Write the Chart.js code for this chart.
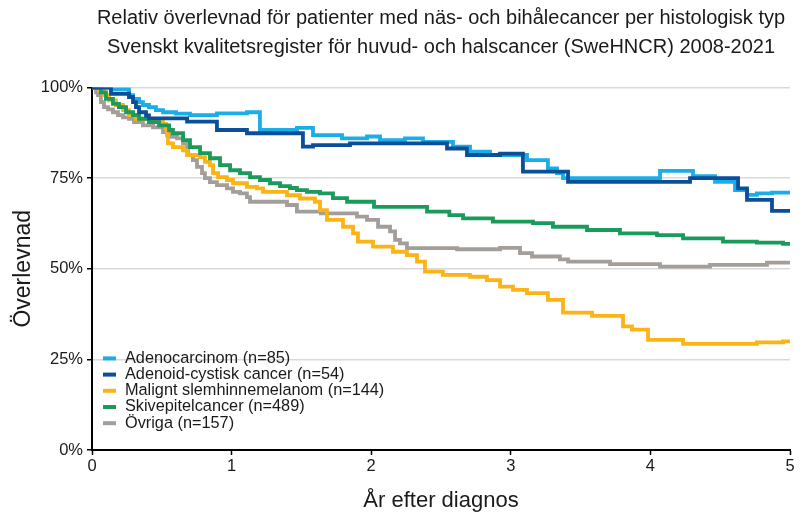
<!DOCTYPE html>
<html lang="sv">
<head>
<meta charset="UTF-8">
<title>Relativ överlevnad per histologisk typ</title>
<script src="https://cdn.jsdelivr.net/npm/chart.js"></script>
<style>
  html, body { margin: 0; padding: 0; background: #fff; }
  #wrap { width: 801px; height: 514px; }
</style>
</head>
<body>
<div id="wrap"><canvas id="chart"></canvas></div>
<script>
// År efter diagnos (t) och relativ överlevnad i procent (s)
var adenoT = [0, 0.136, 0.265, 0.294, 0.337, 0.365, 0.408, 0.458, 0.509, 0.602, 0.702, 0.895, 1.110, 1.203, 1.468, 1.583, 1.791, 1.970, 2.063, 2.242, 2.371, 2.586, 2.708, 2.851, 3.116, 3.266, 3.331, 3.374, 4.069, 4.305, 4.463, 4.606, 4.692, 4.763, 4.871, 5.0];
var adenoS = [100, 99.6, 97.9, 96.9, 96.0, 95.2, 94.6, 93.8, 93.2, 92.8, 92.4, 92.9, 93.2, 88.3, 88.9, 86.9, 86.0, 86.5, 85.5, 86.0, 85.0, 83.7, 82.3, 81.4, 80.0, 77.7, 76.4, 75.0, 77.0, 75.6, 74.0, 71.7, 70.4, 70.8, 71.0, 71.0];

var cystT = [0, 0.136, 0.265, 0.294, 0.315, 0.337, 0.387, 0.408, 0.681, 0.895, 1.110, 1.511, 1.583, 1.848, 2.543, 2.686, 2.923, 3.087, 3.410, 4.284, 4.628, 4.692, 4.871, 5.0];
var cystS = [100, 98.3, 97.4, 96.0, 94.6, 93.2, 92.3, 91.5, 90.6, 88.3, 87.4, 83.7, 84.1, 84.6, 83.2, 81.4, 81.8, 76.8, 74.0, 75.0, 72.2, 69.0, 66.0, 66.0];

var melT = [0, 0.050, 0.086, 0.122, 0.172, 0.222, 0.265, 0.315, 0.437, 0.509, 0.530, 0.537, 0.544, 0.580, 0.652, 0.681, 0.774, 0.809, 0.845, 0.867, 0.903, 0.967, 1.010, 1.110, 1.182, 1.225, 1.397, 1.490, 1.597, 1.633, 1.683, 1.798, 1.870, 1.905, 2.013, 2.156, 2.256, 2.328, 2.385, 2.514, 2.708, 2.829, 2.923, 3.016, 3.116, 3.266, 3.374, 3.582, 3.804, 3.868, 3.983, 4.234, 4.763, 4.950, 5.0];
var melS = [100, 99.3, 97.9, 96.5, 95.2, 93.8, 92.4, 91.4, 90.5, 90.0, 88.6, 86.8, 84.6, 83.6, 82.7, 81.4, 80.8, 79.5, 78.6, 76.4, 75.3, 74.5, 73.6, 72.6, 72.2, 71.2, 70.3, 69.4, 68.5, 66.2, 63.5, 61.6, 59.8, 57.5, 56.1, 54.7, 53.8, 52.0, 49.2, 48.3, 47.8, 46.9, 45.1, 44.2, 43.3, 41.4, 37.9, 37.0, 34.1, 33.2, 30.4, 29.3, 29.7, 30.0, 30.0];

var skivT = [0, 0.064, 0.100, 0.150, 0.193, 0.244, 0.294, 0.337, 0.408, 0.480, 0.552, 0.580, 0.652, 0.702, 0.774, 0.845, 0.917, 0.989, 1.060, 1.132, 1.203, 1.275, 1.347, 1.418, 1.468, 1.540, 1.633, 1.726, 1.827, 2.020, 2.400, 2.560, 2.658, 2.872, 3.159, 3.302, 3.546, 3.782, 4.047, 4.234, 4.520, 4.763, 4.950, 5.0];
var skivS = [100, 98.7, 96.9, 95.5, 94.6, 93.2, 92.4, 91.4, 90.5, 89.6, 88.3, 87.4, 85.5, 83.6, 81.9, 80.5, 78.6, 77.2, 76.4, 75.3, 74.5, 73.6, 72.8, 72.3, 71.7, 71.2, 70.8, 69.5, 68.5, 67.1, 65.8, 64.8, 63.9, 63.0, 62.6, 61.6, 60.7, 59.8, 59.3, 58.4, 57.5, 57.2, 56.9, 56.9];

var ovrT = [0, 0.029, 0.043, 0.064, 0.086, 0.115, 0.150, 0.186, 0.222, 0.265, 0.301, 0.365, 0.437, 0.509, 0.559, 0.609, 0.652, 0.681, 0.688, 0.723, 0.752, 0.788, 0.809, 0.845, 0.895, 0.967, 1.010, 1.060, 1.110, 1.132, 1.397, 1.468, 1.640, 1.898, 1.970, 2.049, 2.135, 2.171, 2.206, 2.256, 2.615, 2.923, 3.066, 3.152, 3.352, 3.410, 3.711, 4.069, 4.427, 4.835, 5.0];
var ovrS = [100, 98.7, 97.9, 96.0, 94.6, 94.0, 93.2, 92.4, 91.8, 91.4, 90.5, 89.6, 89.0, 87.7, 86.4, 86.0, 84.6, 82.7, 81.4, 80.0, 78.1, 76.4, 75.0, 73.9, 73.1, 72.2, 71.2, 70.8, 69.8, 68.5, 67.6, 65.8, 65.3, 64.4, 63.5, 61.6, 60.3, 58.0, 57.0, 55.7, 55.4, 55.8, 54.3, 53.4, 52.6, 52.0, 51.3, 50.6, 51.1, 51.7, 51.7];

var seriesLabels = ['Adenocarcinom (n=85)', 'Adenoid-cystisk cancer (n=54)', 'Malignt slemhinnemelanom (n=144)', 'Skivepitelcancer (n=489)', 'Övriga (n=157)'];
var seriesColors = ['#1aaee8', '#0b4f9a', '#fcb316', '#1a9a5b', '#a39e99'];
var yTicks = [0, 25, 50, 75, 100];

function pts(t, s) {
  return t.map(function(v, i) { return { x: v, y: s[i] }; });
}

var allT = [adenoT, cystT, melT, skivT, ovrT];
var allS = [adenoS, cystS, melS, skivS, ovrS];
var drawOrder = [2, 1, 4, 3, 5]; // mörkblå överst

var datasets = seriesLabels.map(function(lab, i) {
  return {
    label: lab,
    data: pts(allT[i], allS[i]),
    borderColor: seriesColors[i],
    backgroundColor: seriesColors[i],
    borderWidth: 3.8,
    pointRadius: 0,
    stepped: true,
    fill: false,
    order: drawOrder[i]
  };
});

// legend inne i diagrammet, nere till vänster
var innerLegend = {
  id: 'innerLegend',
  afterDraw: function(chart) {
    var ctx = chart.ctx;
    var x0 = chart.chartArea.left + 11;
    var y0 = chart.scales.y.getPixelForValue(25) - 1;
    ctx.save();
    ctx.font = '16.3px "Liberation Sans", Arial, sans-serif';
    ctx.textBaseline = 'middle';
    ctx.textAlign = 'left';
    seriesLabels.forEach(function(lab, i) {
      var y = y0 + i * 16.2;
      ctx.fillStyle = seriesColors[i];
      ctx.fillRect(x0, y - 2, 13, 4);
      ctx.fillStyle = '#1a1a1a';
      ctx.fillText(lab, x0 + 22, y);
    });
    ctx.restore();
  }
};

Chart.defaults.font.family = '"Liberation Sans", Arial, sans-serif';
Chart.defaults.color = '#1a1a1a';

var ctx = document.getElementById('chart').getContext('2d');
var chart = new Chart(ctx, {
  type: 'line',
  data: { datasets: datasets },
  options: {
    responsive: true,
    maintainAspectRatio: false,
    animation: false,
    layout: { padding: { left: 0, right: 11, top: 0, bottom: 0 } },
    plugins: {
      legend: { display: false },
      tooltip: { enabled: false },
      title: {
        display: true,
        fullSize: false,
        text: ['Relativ överlevnad för patienter med näs- och bihålecancer per histologisk typ',
               'Svenskt kvalitetsregister för huvud- och halscancer (SweHNCR) 2008-2021'],
        font: { size: 20, weight: 'normal', lineHeight: 1.45 },
        color: '#1a1a1a',
        padding: { top: 3.5, bottom: 26.1 }
      }
    },
    scales: {
      x: {
        type: 'linear',
        min: 0,
        max: 5,
        afterFit: function(scale) { scale.height = 64; },
        ticks: { stepSize: 1, color: '#1a1a1a', font: { size: 16.5 }, padding: 2, maxRotation: 0 },
        grid: { drawOnChartArea: false, tickColor: '#000', tickLength: 5, tickWidth: 1.5 },
        border: { color: '#000', width: 2 },
        title: { display: true, text: 'År efter diagnos', font: { size: 22 }, color: '#1a1a1a', padding: { top: 0, bottom: 0 } }
      },
      y: {
        min: 0,
        max: 100,
        afterFit: function(scale) { scale.width = 92; },
        afterBuildTicks: function(scale) {
          scale.ticks = yTicks.map(function(v) { return { value: v }; });
        },
        ticks: {
          color: '#1a1a1a',
          font: { size: 16.5 },
          padding: 4,
          callback: function(v) { return v + '%'; }
        },
        grid: {
          color: function(c) { return c.tick && c.tick.value === 0 ? 'rgba(0,0,0,0)' : '#d9d9d9'; },
          lineWidth: 1.5,
          tickColor: '#000',
          tickLength: 5,
          tickWidth: 1.5
        },
        border: { color: '#000', width: 2 },
        title: { display: true, text: 'Överlevnad', font: { size: 23 }, color: '#1a1a1a', padding: { top: 10, bottom: 0 } }
      }
    }
  },
  plugins: [innerLegend]
});
</script>
</body>
</html>
